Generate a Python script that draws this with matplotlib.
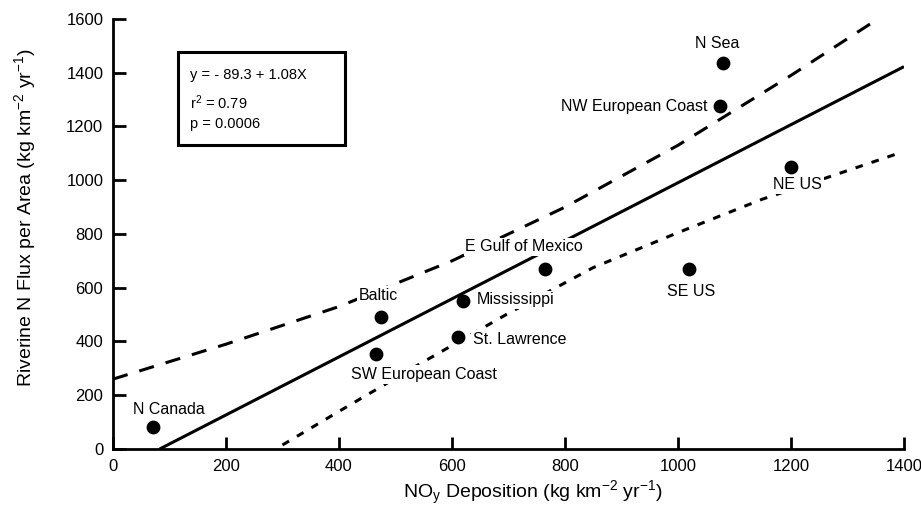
import matplotlib.pyplot as plt
from matplotlib.patches import Rectangle

plt.rcParams['font.family'] = ['Liberation Sans', 'DejaVu Sans']

# NOy deposition vs riverine N flux, by region
regions = ["N Canada", "SW European Coast", "Baltic", "St. Lawrence", "Mississippi",
           "E Gulf of Mexico", "SE US", "NW European Coast", "N Sea", "NE US"]
deposition = [70, 465, 475, 610, 620, 765, 1020, 1075, 1080, 1200]
flux = [80, 355, 490, 415, 550, 670, 670, 1275, 1435, 1050]

# label offsets (points) and alignment for each region
label_dx = [-14, -18, -2, 11, 10, -15, 1, -9, -4, 5]
label_dy = [13, -15, 16, -1.5, 1, 16, -16, 0, 14, -13]
label_ha = ["left", "left", "center", "left", "left", "center", "center", "right", "center", "center"]

# regression fit
intercept = -89.3
slope = 1.08
fit_x = [-intercept / slope, 1400]
fit_y = [intercept + slope * v for v in fit_x]

# upper and lower confidence curves
upper_x = [0, 200, 400, 600, 800, 1000, 1200, 1350]
upper_y = [260, 390, 530, 700, 900, 1130, 1390, 1595]
lower_x = [300, 400, 550, 700, 850, 1000, 1150, 1250, 1390]
lower_y = [15, 140, 325, 505, 675, 805, 930, 1000, 1100]

fig = plt.figure(figsize=(9.21, 5.09), dpi=100)
ax = fig.add_axes([0.1227, 0.1179, 0.8588, 0.8448])

ax.plot(fit_x, fit_y, color="black", lw=2.2, solid_capstyle="butt", zorder=1)
ax.plot(upper_x, upper_y, color="black", lw=2.2, dashes=(5, 4), zorder=1)
ax.plot(lower_x, lower_y, color="black", lw=2.2, dashes=(2.5, 3), zorder=1)
ax.scatter(deposition, flux, s=80, color="black", zorder=4)

for name, x, y, dx, dy, ha in zip(regions, deposition, flux, label_dx, label_dy, label_ha):
    ax.annotate(name, (x, y), xytext=(dx, dy), textcoords="offset points",
                ha=ha, va="center", fontsize=11.5, zorder=3,
                bbox=dict(boxstyle="square,pad=0.1", fc="white", ec="none"))

# stats box
ax.add_patch(Rectangle((115, 1130), 296, 346, fill=False, lw=2.2, color="black"))
ax.text(136, 1390, "y = - 89.3 + 1.08X", fontsize=10.5, va="center")
ax.text(136, 1290, "r$\\mathregular{^2}$ = 0.79", fontsize=10.5, va="center")
ax.text(136, 1208, "p = 0.0006", fontsize=10.5, va="center")

ax.set_xlim(0, 1400)
ax.set_ylim(0, 1600)
ax.set_xticks(range(0, 1401, 200))
ax.set_yticks(range(0, 1601, 200))
ax.spines["top"].set_visible(False)
ax.spines["right"].set_visible(False)
ax.spines["left"].set_linewidth(2)
ax.spines["bottom"].set_linewidth(2)
ax.tick_params(direction="in", length=9, width=2, labelsize=12, pad=7)

ax.set_xlabel("NO$\\mathregular{_y}$ Deposition (kg km$\\mathregular{^{-2}}$ yr$\\mathregular{^{-1}}$)",
              fontsize=14)
ax.set_ylabel("Riverine N Flux per Area (kg km$\\mathregular{^{-2}}$ yr$\\mathregular{^{-1}}$)",
              fontsize=14)
ax.xaxis.set_label_coords(0.531, -0.07)
ax.yaxis.set_label_coords(-0.095, 0.537)

fig.savefig("out.png", dpi=100)
